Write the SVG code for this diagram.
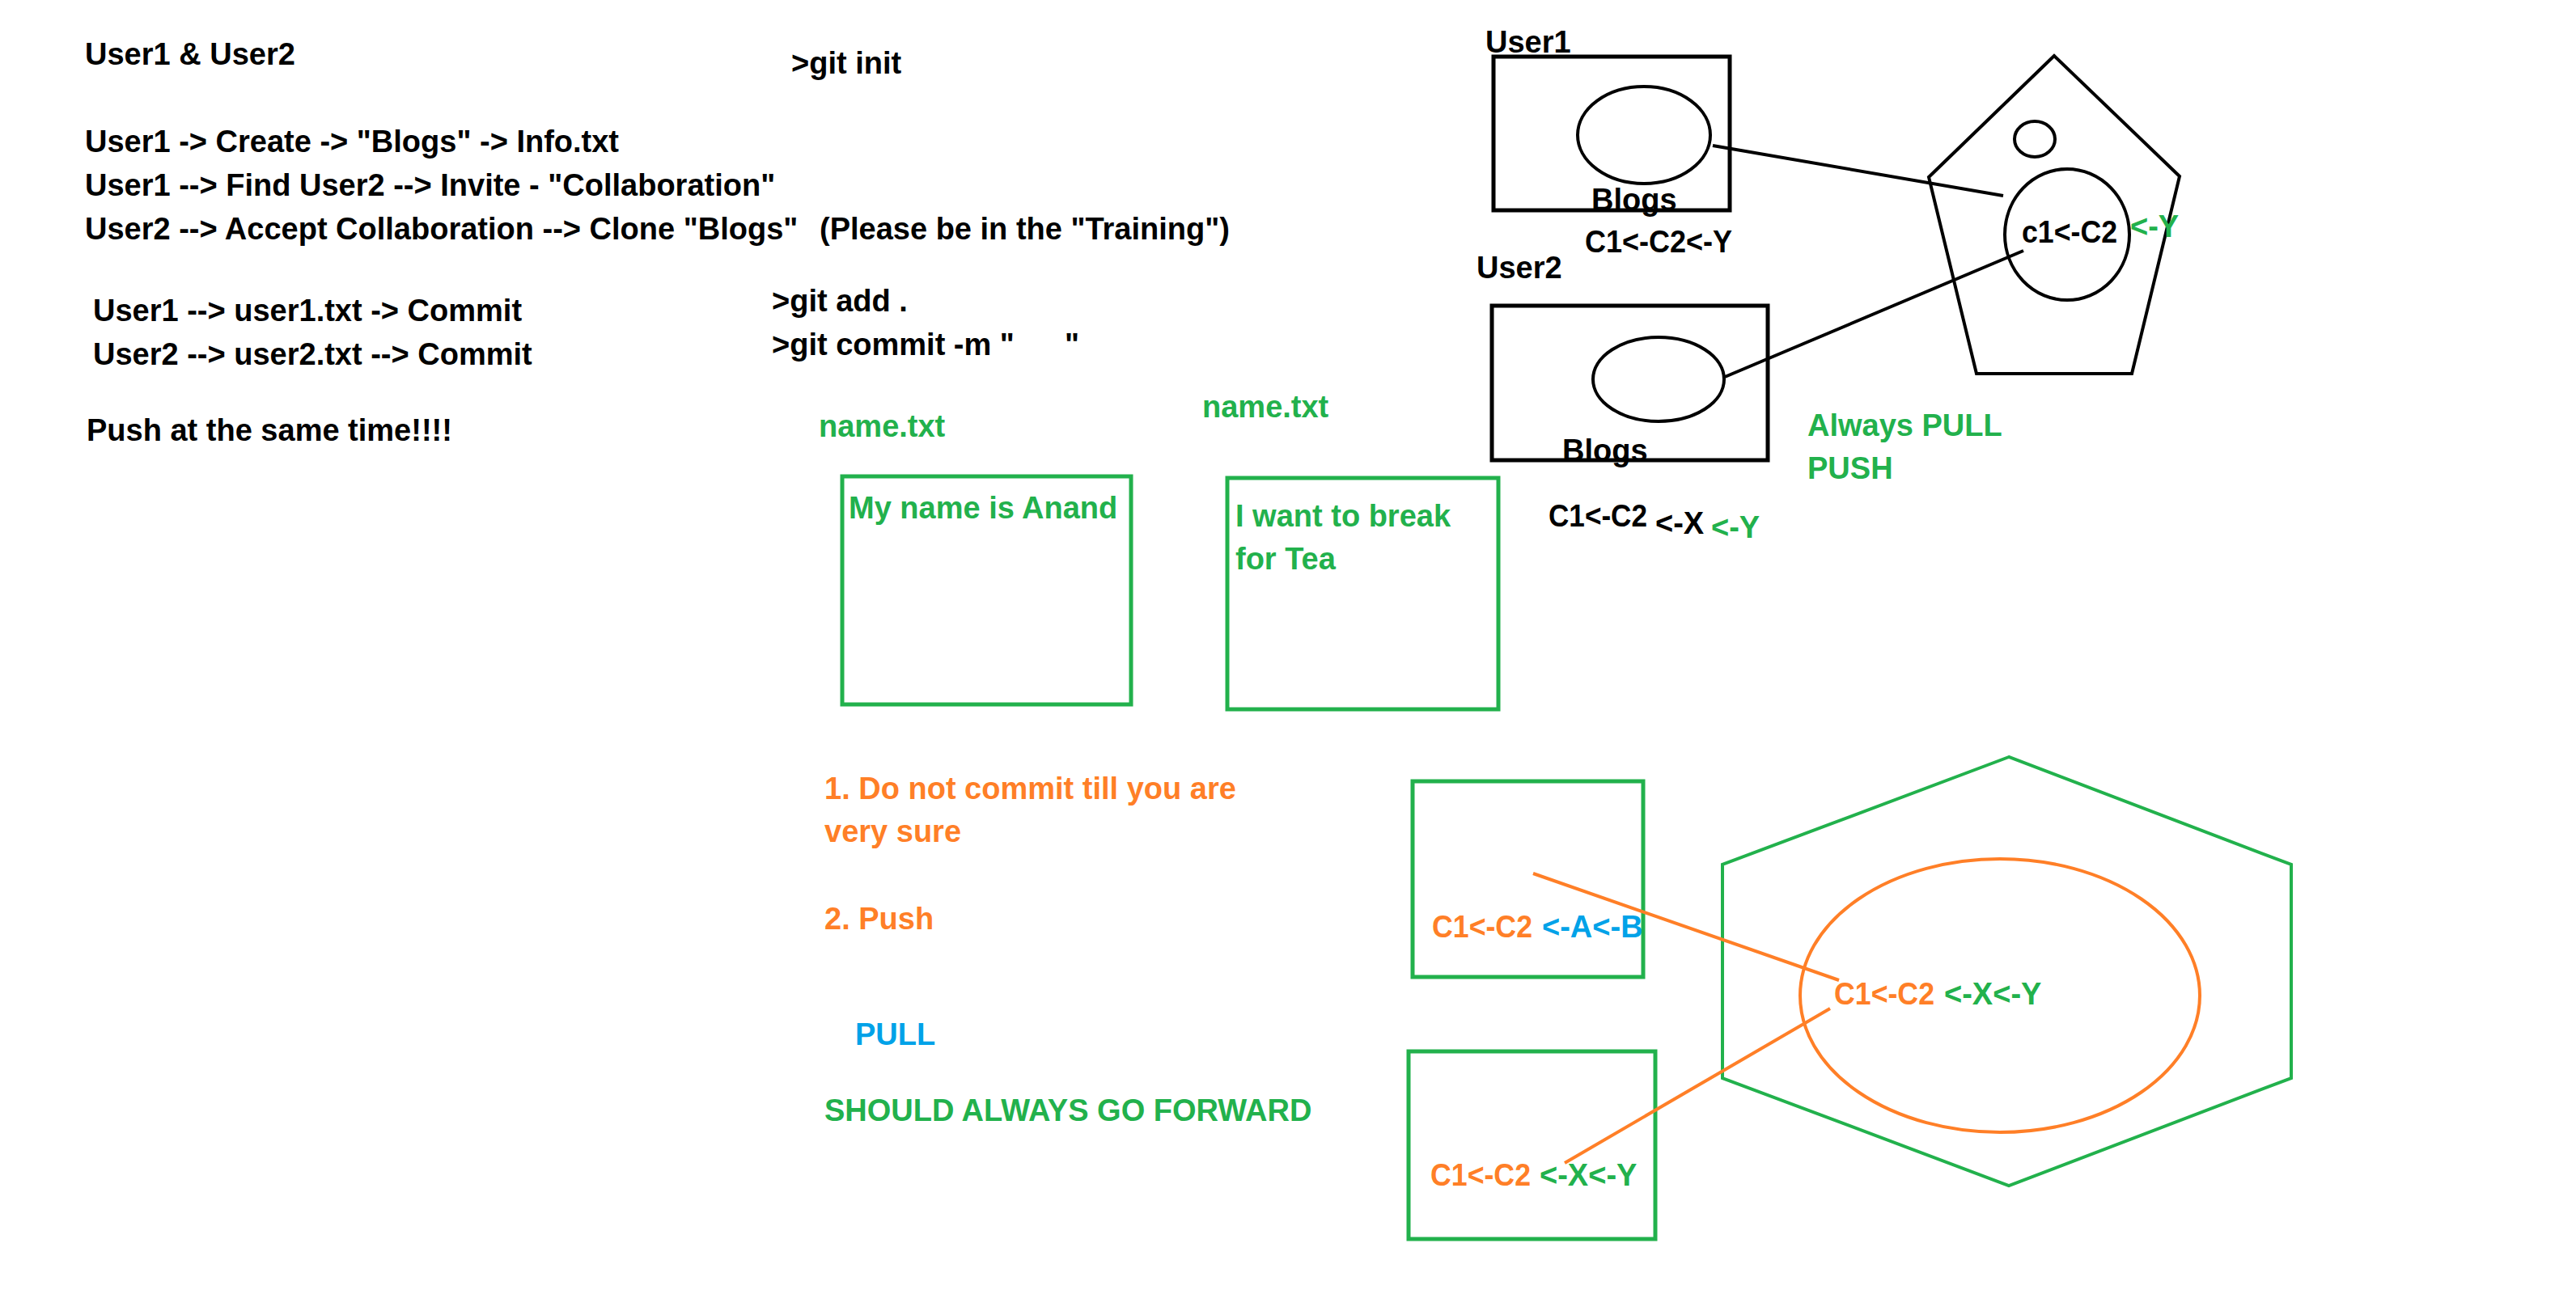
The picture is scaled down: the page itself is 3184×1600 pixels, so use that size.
<svg xmlns="http://www.w3.org/2000/svg" width="3184" height="1600" viewBox="0 0 3184 1600">
<style>
text{font-family:"Liberation Sans",Arial,sans-serif;font-weight:bold;font-size:38px;fill:#000}
.g{fill:#22B14C}
.o{fill:#FF7F27}
.b{fill:#00A2E8}
.k{fill:none;stroke:#000;stroke-width:5}
.kl{fill:none;stroke:#000;stroke-width:4}
.gs{fill:none;stroke:#22B14C;stroke-width:5}
.os{fill:none;stroke:#FF7F27;stroke-width:4}
</style>
<rect width="3184" height="1600" fill="#fff"/>
<g id="notes">
<text x="105" y="80">User1 &amp; User2</text>
<text x="978" y="91">&gt;git init</text>
<text x="105" y="188">User1 -&gt; Create -&gt; "Blogs" -&gt; Info.txt</text>
<text x="105" y="242">User1 --&gt; Find User2 --&gt; Invite - "Collaboration"</text>
<text x="105" y="296">User2 --&gt; Accept Collaboration --&gt; Clone "Blogs"<tspan x="1013">(Please be in the "Training")</tspan></text>
<text x="115" y="397">User1 --&gt; user1.txt -&gt; Commit</text>
<text x="115" y="451">User2 --&gt; user2.txt --&gt; Commit</text>
<text x="954" y="385">&gt;git add .</text>
<text x="954" y="439">&gt;git commit -m "<tspan x="1316">"</tspan></text>
<text x="107" y="545">Push at the same time!!!!</text>
<text class="g" x="2234" y="539">Always PULL</text>
<text class="g" x="2234" y="592">PUSH</text>
<text class="o" x="1019" y="988">1. Do not commit till you are</text>
<text class="o" x="1019" y="1041">very sure</text>
<text class="o" x="1019" y="1149">2. Push</text>
<text class="b" x="1057" y="1292">PULL</text>
<text class="g" x="1019" y="1386">SHOULD ALWAYS GO FORWARD</text>
</g>
<g id="file1">
<text class="g" x="1012" y="540">name.txt</text>
<rect class="gs" x="1041" y="589" width="357" height="282"/>
<text class="g" x="1049" y="641">My name is Anand</text>
</g>
<g id="file2">
<text class="g" x="1486" y="516">name.txt</text>
<rect class="gs" x="1517" y="591" width="335" height="286"/>
<text class="g" x="1527" y="651">I want to break</text>
<text class="g" x="1527" y="704">for Tea</text>
</g>
<g id="user1">
<rect class="k" x="1846" y="70" width="292" height="190"/>
<ellipse class="kl" cx="2032" cy="167" rx="82" ry="60"/>
<text x="1836" y="65">User1</text>
<text x="1967" y="260">Blogs</text>
<text x="1959" y="312" textLength="182" lengthAdjust="spacingAndGlyphs">C1&lt;-C2&lt;-Y</text>
</g>
<g id="user2">
<text x="1825" y="344">User2</text>
<rect class="k" x="1844" y="378" width="341" height="191"/>
<ellipse class="kl" cx="2050" cy="469" rx="81" ry="52"/>
<text x="1931" y="570">Blogs</text>
<text x="1914" y="651" textLength="122" lengthAdjust="spacingAndGlyphs">C1&lt;-C2</text>
<text x="2046" y="660">&lt;-X</text>
<text class="g" x="2115" y="665">&lt;-Y</text>
</g>
<g id="remote">
<polygon class="kl" points="2539,69 2384,219 2443,462 2635,462 2694,218"/>
<ellipse class="kl" cx="2515" cy="172" rx="25" ry="22"/>
<ellipse class="kl" cx="2555" cy="290" rx="77" ry="81"/>
<text x="2499" y="300" textLength="118" lengthAdjust="spacingAndGlyphs">c1&lt;-C2</text>
<text class="g" x="2633" y="293">&lt;-Y</text>
</g>
<g id="localA">
<rect class="gs" x="1746" y="966" width="285" height="242"/>
<text class="o" x="1770" y="1159" textLength="124" lengthAdjust="spacingAndGlyphs">C1&lt;-C2</text>
<text class="b" x="1906" y="1159">&lt;-A&lt;-B</text>
</g>
<g id="localB">
<rect class="gs" x="1741" y="1300" width="305" height="232"/>
<text class="o" x="1768" y="1466" textLength="124" lengthAdjust="spacingAndGlyphs">C1&lt;-C2</text>
<text class="g" x="1903" y="1466">&lt;-X&lt;-Y</text>
</g>
<g id="remote2">
<polygon class="gs" style="stroke-width:4" points="2483,936 2129,1069 2129,1333 2483,1466 2832,1333 2832,1069"/>
<ellipse class="os" cx="2472" cy="1231" rx="247" ry="169"/>
<text class="o" x="2267" y="1242" textLength="124" lengthAdjust="spacingAndGlyphs">C1&lt;-C2</text>
<text class="g" x="2403" y="1242">&lt;-X&lt;-Y</text>
</g>
<g id="connectors">
<line class="kl" x1="2117" y1="180" x2="2476" y2="242"/>
<line class="kl" x1="2132" y1="466" x2="2501" y2="310"/>
<line class="os" x1="1895" y1="1080" x2="2273" y2="1212"/>
<line class="os" x1="2262" y1="1247" x2="1934" y2="1438"/>
</g>
</svg>
